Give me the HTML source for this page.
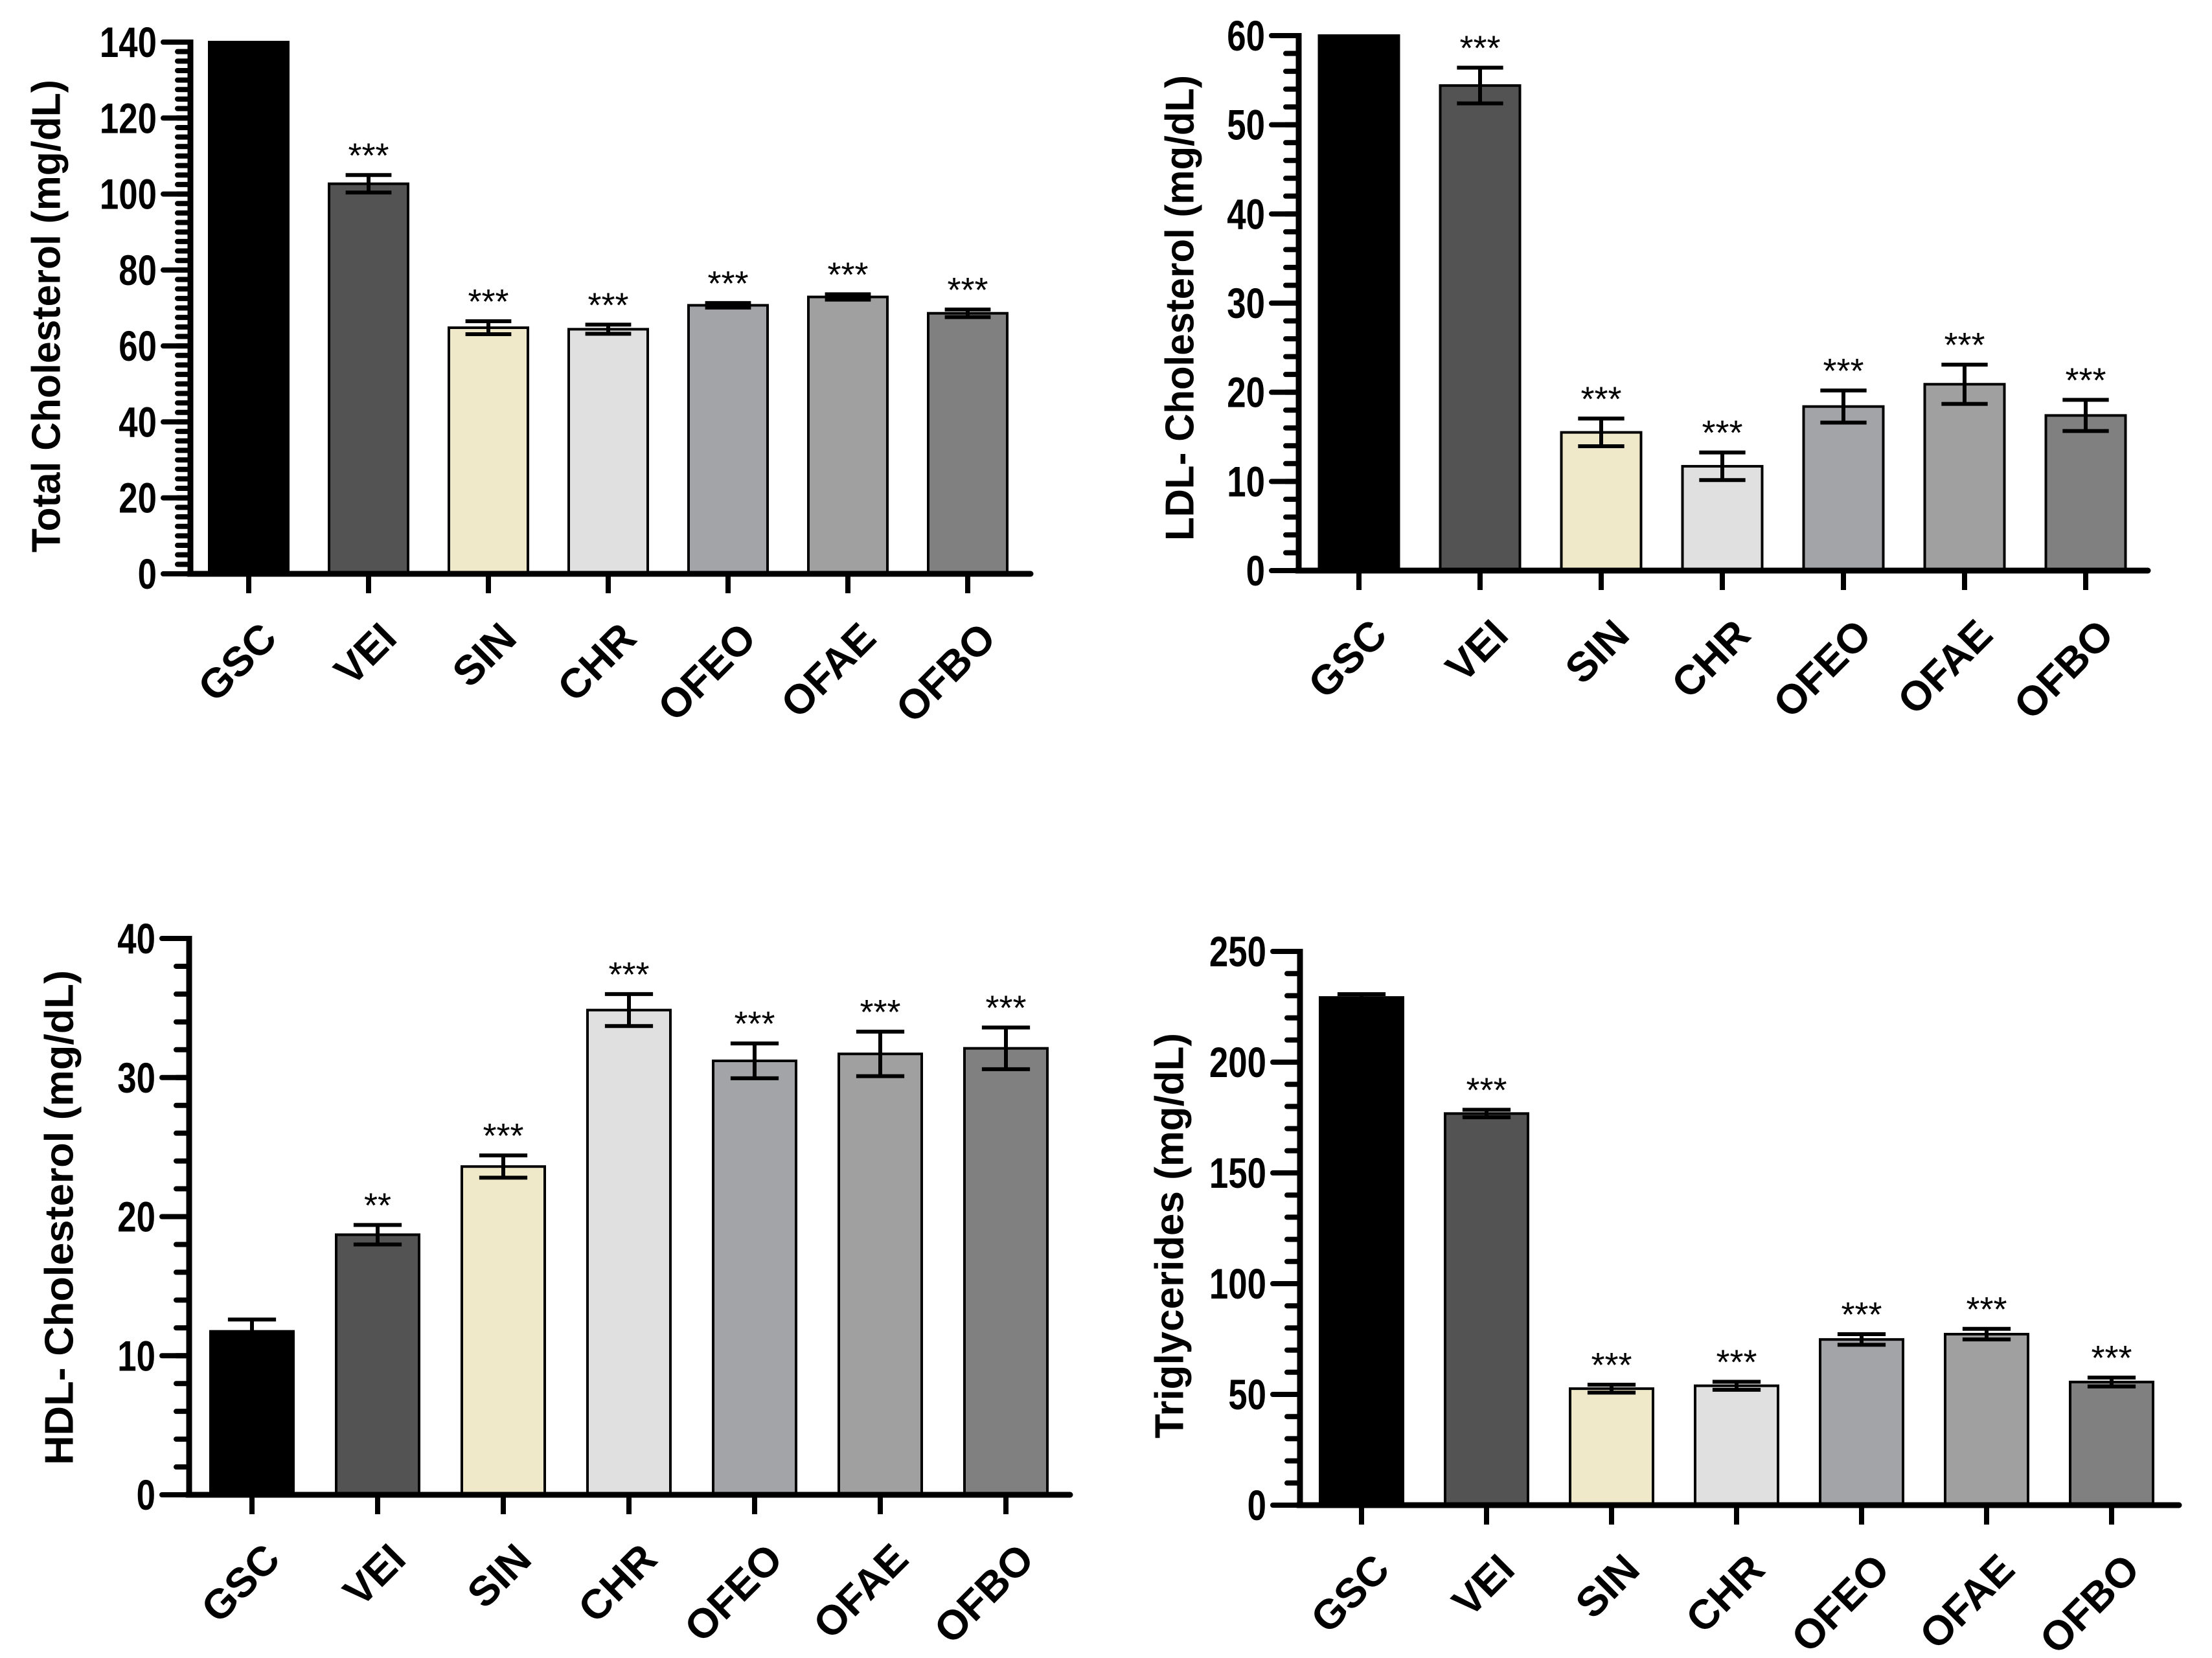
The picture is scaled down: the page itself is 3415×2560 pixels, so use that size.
<!DOCTYPE html>
<html><head><meta charset="utf-8"><style>
html,body{margin:0;padding:0;background:#fff;}
svg{display:block;}
text{font-family:"Liberation Sans",Arial,sans-serif;}
</style></head>
<body>
<svg id="fig" width="3415" height="2560" viewBox="0 0 3415 2560" xmlns="http://www.w3.org/2000/svg"></svg>
<script>
const categories = ["GSC","VEI","SIN","CHR","OFEO","OFAE","OFBO"];
const barColors = ["#000000","#535353","#efe8c9","#e0e0e0","#a3a4a8","#a0a0a0","#808080"];

const tcValues = [140, 102.7, 64.8, 64.4, 70.7, 72.9, 68.6];
const tcErrors = [0, 2.3, 1.7, 1.2, 0.6, 0.7, 1.0];
const tcStars = ["", "***", "***", "***", "***", "***", "***"];
const tcTicks = [0, 20, 40, 60, 80, 100, 120, 140];

const ldlValues = [60, 54.4, 15.5, 11.7, 18.4, 20.9, 17.4];
const ldlErrors = [0, 2.0, 1.55, 1.55, 1.8, 2.2, 1.75];
const ldlStars = ["", "***", "***", "***", "***", "***", "***"];
const ldlTicks = [0, 10, 20, 30, 40, 50, 60];

const hdlValues = [11.75, 18.7, 23.6, 34.85, 31.2, 31.7, 32.1];
const hdlErrors = [0.85, 0.7, 0.8, 1.15, 1.25, 1.6, 1.5];
const hdlStars = ["", "**", "***", "***", "***", "***", "***"];
const hdlTicks = [0, 10, 20, 30, 40];

const tgValues = [229.2, 176.8, 52.6, 53.9, 74.8, 77.2, 55.6];
const tgErrors = [1.5, 1.7, 1.8, 1.8, 2.4, 2.4, 2.0];
const tgStars = ["", "***", "***", "***", "***", "***", "***"];
const tgTicks = [0, 50, 100, 150, 200, 250];

const NS = "http://www.w3.org/2000/svg";
const svg = document.getElementById("fig");
function mk(tag, attrs, parent){
  const e = document.createElementNS(NS, tag);
  for (const k in attrs) e.setAttribute(k, attrs[k]);
  (parent||svg).appendChild(e);
  return e;
}

function drawChart(cfg){
  const g = mk("g", {});
  
  
  const yScale = v => cfg.y0 - (v / cfg.max) * (cfg.y0 - cfg.yTop);
  const xCenter = i => cfg.c0 + i * cfg.step;
  cfg.values.forEach((v, i) => {
    const cx = xCenter(i);
    const top = yScale(v);
    const r = mk("rect", {x: cx - cfg.bw/2, y: top, width: cfg.bw, height: cfg.y0 - top,
      fill: barColors[i], stroke: "#000", "stroke-width": 4}, g);
    
    
    const e = cfg.errors[i];
    const eg = mk("g", {stroke: "#000", "stroke-width": 6}, g);
    
    
    const cw = cfg.bw * 0.29;
    if (e > 0) {
      mk("line", {x1: cx, x2: cx, y1: yScale(v + e), y2: yScale(v - e)}, eg);
      mk("line", {x1: cx - cw, x2: cx + cw, y1: yScale(v + e), y2: yScale(v + e)}, eg);
      mk("line", {x1: cx - cw, x2: cx + cw, y1: yScale(v - e), y2: yScale(v - e)}, eg);
    }
    if (cfg.stars[i]) {
      const t = mk("text", {x: cx, y: yScale(v + e) - 12, "text-anchor": "middle", "font-size": 54, fill: "#000"}, g);
      t.textContent = cfg.stars[i];
      
      
    }
    mk("line", {x1: cx, x2: cx, y1: cfg.y0, y2: cfg.y0 + 30, stroke: "#000", "stroke-width": 8}, g);
    const lx = cx + 14, ly = cfg.y0 + 70;
    const lt = mk("text", {x: lx, y: ly, "text-anchor": "end", "font-size": 64, "font-weight": "bold",
      transform: "rotate(-45 " + lx + " " + ly + ")", "dominant-baseline": "hanging", fill: "#000"}, g);
    lt.textContent = categories[i];
    
    
  });
  for (let v = 0; v <= cfg.max + 1e-9; v += cfg.minor) {
    mk("line", {x1: cfg.ax - 20, x2: cfg.ax, y1: yScale(v), y2: yScale(v), stroke: "#000", "stroke-width": 8, "stroke-linecap": "round"}, g);
  }
  cfg.ticks.forEach(v => {
    mk("line", {x1: cfg.ax - 42, x2: cfg.ax, y1: yScale(v), y2: yScale(v), stroke: "#000", "stroke-width": 8, "stroke-linecap": "round"}, g);
    const tx = cfg.ax - 52, ty = yScale(v) + 23;
    const t = mk("text", {x: 0, y: 0, "text-anchor": "end", "font-size": 66, "font-weight": "bold", fill: "#000",
      transform: "translate(" + tx + " " + ty + ") scale(0.8 1)"}, g);
    t.textContent = String(v);
    
    
  });
  const ya = mk("line", {x1: cfg.ax, x2: cfg.ax, y1: cfg.yTop - 4, y2: cfg.y0, stroke: "#000", "stroke-width": 9}, g);
  
  
  const xa = mk("line", {x1: cfg.ax - 4, x2: cfg.xEnd, y1: cfg.y0, y2: cfg.y0, stroke: "#000", "stroke-width": 9, "stroke-linecap": "round"}, g);
  
  
  const tx = cfg.titleX, ty = (cfg.titleY1 + cfg.titleY2) / 2;
  const tt = mk("text", {x: tx, y: ty, "text-anchor": "middle", "font-size": 62, "font-weight": "bold",
    transform: "rotate(-90 " + tx + " " + ty + ")", "dominant-baseline": "central",
    textLength: cfg.titleY2 - cfg.titleY1, lengthAdjust: "spacingAndGlyphs", fill: "#000"}, g);
  tt.textContent = cfg.title;
  
  
}

drawChart({name: "total-cholesterol-chart", values: tcValues, errors: tcErrors, stars: tcStars, ticks: tcTicks,
  max: 140, minor: 2.5, ax: 294, y0: 886, yTop: 65, xEnd: 1591, c0: 384, step: 185, bw: 122,
  title: "Total Cholesterol (mg/dL)", titleX: 72, titleY1: 123, titleY2: 853});
drawChart({name: "ldl-cholesterol-chart", values: ldlValues, errors: ldlErrors, stars: ldlStars, ticks: ldlTicks,
  max: 60, minor: 2, ax: 2005, y0: 881, yTop: 55, xEnd: 3316, c0: 2098, step: 187, bw: 123,
  title: "LDL- Cholesterol (mg/dL)", titleX: 1822, titleY1: 116, titleY2: 835});
drawChart({name: "hdl-cholesterol-chart", values: hdlValues, errors: hdlErrors, stars: hdlStars, ticks: hdlTicks,
  max: 40, minor: 2, ax: 292, y0: 2308, yTop: 1449, xEnd: 1652, c0: 389, step: 194, bw: 128,
  title: "HDL- Cholesterol (mg/dL)", titleX: 92, titleY1: 1498, titleY2: 2262});
drawChart({name: "triglycerides-chart", values: tgValues, errors: tgErrors, stars: tgStars, ticks: tgTicks,
  max: 250, minor: 10, ax: 2007, y0: 2324, yTop: 1469, xEnd: 3364, c0: 2102, step: 193, bw: 128,
  title: "Triglycerides (mg/dL)", titleX: 1806, titleY1: 1595, titleY2: 2221});
</script>
</body></html>
